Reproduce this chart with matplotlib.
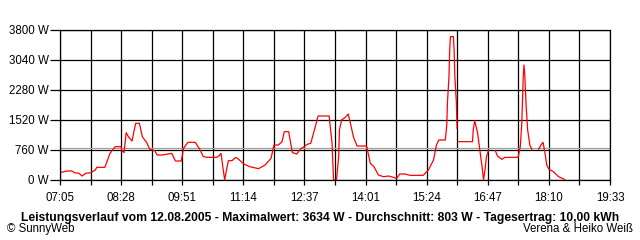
import numpy as np
import matplotlib
matplotlib.use("Agg")
import matplotlib.pyplot as plt

# minutes since midnight and power in W (None = no data)
minutes = [427, 434, 441, 445, 451, 455, 460, 467, 473, 475,
           486, 493, 500, 508, 509, 512, 515, 518, 523, 525,
           528, 533, 537, 543, 547, 554, 557, 564, 577, 582,
           590, 593, 599, 609, 615, 620, 625, 638, 641, 644,
           647, 649, 651, 654, 659, 664, 668, 675, 683, 695,
           704, 712, 716, 722, 727, 730, 736, 741, 747, 753,
           756, 761, 766, 771, 776, 791, 795, 797, 801, 804,
           805, 808, 813, 817, 821, 824, 829, 842, 847, 852,
           858, 865, 872, 883, 887, 894, 901, 919, 926, 933,
           937, 940, 949, 951, 952, 954, 955, 956, 960, 961,
           962, 964, 965, 965.5, 966, 986, 987, 989, 993, 996,
           999, 1001, 1003, 1005, 1008, 1012, 1017, 1020, 1026, 1030,
           1048, 1051, 1053, 1055, 1056, 1057, 1059, 1061, 1064, 1067,
           1070, 1076, 1079, 1082, 1085, 1087, 1090, 1096, 1103, 1111]
watts = [195, 228, 228, 185, 169, 101, 169, 185, 253, 321,
         321, 675, 844, 844, 760, 692, 1199, 1097, 988, 1182,
         1436, 1436, 1097, 945, 777, 743, 633, 633, 675, 481,
         481, 802, 954, 954, 777, 591, 574, 574, 608, 675,
         253, 0, 211, 490, 490, 574, 523, 405, 338, 287,
         380, 549, 887, 887, 971, 1224, 1224, 692, 659, 802,
         827, 903, 929, 1267, 1621, 1621, 929, 0, 0, 591,
         1267, 1520, 1587, 1672, 1351, 1097, 861, 861, 422, 338,
         127, 84, 101, 42, 152, 152, 118, 118, 253, 507,
         887, 1013, 1013, 1393, 1984, 2617, 3293, 3634, 3634, 3293,
         2617, 1984, 1308, None, 971, 971, 1267, 1503, 1182, 760,
         338, 0, 253, 591, 760, None, 743, 608, 523, 574,
         574, 844, 1436, 2617, 2913, 2702, 1857, 1267, 887, 760,
         None, 777, 887, 954, 633, 380, 270, 211, 84, 17]

avg_w = 803
y_ticks = [0, 760, 1520, 2280, 3040, 3800]
t_start, t_end = 425, 1173  # 07:05 .. 19:33

title = ("Leistungsverlauf vom 12.08.2005 - Maximalwert: 3634 W - "
         "Durchschnitt: 803 W - Tagesertrag: 10,00 kWh")

plt.rcParams['font.family'] = ['Liberation Sans', 'DejaVu Sans']

fig = plt.figure(figsize=(6.4, 2.4), dpi=100)
ax = fig.add_axes([60 / 640, 1 - 180 / 240, 550 / 640, 150 / 240])

grid_x = np.linspace(t_start, t_end, 19)
ax.set_xlim(t_start, t_end)
ax.set_ylim(0, 3800)
ax.set_xticks(grid_x)
labels = []
for i, t in enumerate(grid_x):
    m = int(round(t))
    labels.append(f"{m // 60:02d}:{m % 60:02d}" if i % 2 == 0 else "")
ax.set_xticklabels(labels, fontsize=8.3)
ax.set_yticks(y_ticks)
ax.set_yticklabels([f"{v} W" for v in y_ticks], fontsize=8.3)
ax.tick_params(axis='x', length=3.6, width=0.9, pad=5)
ax.tick_params(axis='y', length=7.2, width=0.9, pad=1)
ax.grid(True, color='black', linewidth=0.9)
for s in ax.spines.values():
    s.set_linewidth(0.9)

ax.axhline(avg_w, color='#a0a0a0', linewidth=0.9, zorder=2.5)
w = np.array([np.nan if v is None else v for v in watts], dtype=float)
ax.plot(minutes, w, color='#ff0000', linewidth=0.9, zorder=3)

fig.text(0.5, 1 - 217.5 / 240, title, ha='center', va='center',
         fontsize=8.7, fontweight='bold')
fig.text(7 / 640, 1 - 229 / 240, "\u00a9 SunnyWeb", ha='left', va='center', fontsize=8.3)
fig.text(633 / 640, 1 - 229 / 240, "Verena & Heiko Wei\u00df", ha='right', va='center', fontsize=8.3)

fig.savefig("out.png", dpi=100)
